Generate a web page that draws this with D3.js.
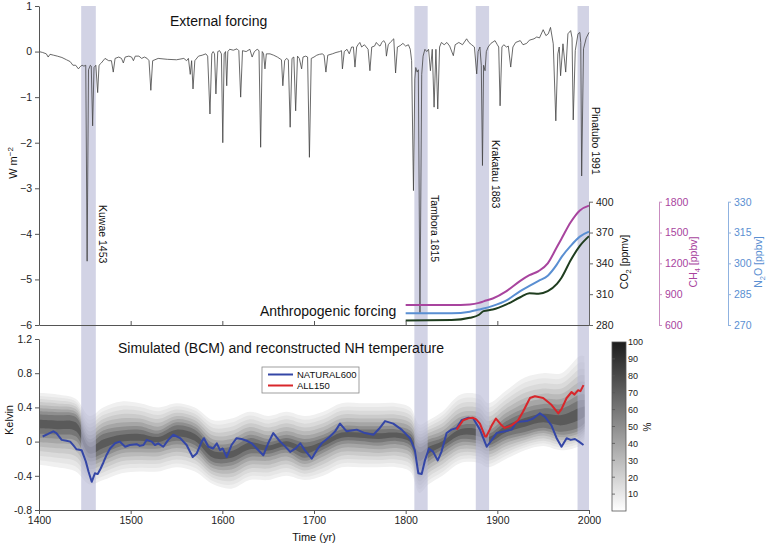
<!DOCTYPE html>
<html><head><meta charset="utf-8">
<script src="https://cdn.jsdelivr.net/npm/d3@7"></script>
<style>html,body{margin:0;padding:0;background:#fff} svg{display:block;font-family:"Liberation Sans",Arial,Helvetica,sans-serif}</style>
</head><body><svg id="c" width="768" height="547"></svg>
<script>
// ---------------- DATA ----------------
// External (volcanic + solar) forcing, W m^-2  [year, value]
const forcing = [
[1400,0.0],[1404,-0.02],[1408,-0.05],[1410,-0.12],[1412,-0.06],[1416,-0.08],[1420,-0.1],[1425,-0.13],[1430,-0.18],[1434,-0.22],[1437,-0.3],[1440,-0.3],[1443,-0.38],[1445,-0.33],[1447,-0.3],[1449,-0.32],[1451,-0.3],[1452.5,-4.6],[1454,-0.4],[1456,-0.3],[1457,-0.32],[1458.5,-1.63],[1460,-0.35],[1462,-0.3],[1464,-0.9],[1465.5,-0.3],
[1468,-0.25],[1472,-0.15],[1476,-0.2],[1479,-0.2],[1481,-0.45],[1483,-0.15],[1487,-0.12],[1490,-0.15],[1492,-0.25],[1494,-0.12],[1498,-0.1],[1501,-0.12],[1503,-0.2],[1505,-0.1],[1509,-0.1],[1512,-0.15],[1515,-0.12],[1518,-0.15],[1520,-0.2],[1522,-0.85],[1524,-0.2],[1530,-0.15],[1540,-0.17],[1550,-0.18],[1558,-0.15],[1561,-0.2],[1563,-0.15],[1565,-0.5],[1566.5,-0.2],[1568,-0.82],[1570,-0.2],[1574,-0.1],[1578,-0.08],[1582,-0.05],[1584,-0.1],[1586.5,-1.37],[1588.5,-0.05],[1590,0.0],[1591.5,-0.05],[1593,-0.93],[1595,0.0],[1597,0.02],[1599,-0.05],[1600.5,-2.0],[1602,-0.05],[1603.5,0.0],[1604.8,-0.75],[1606,0.0],[1608,0.05],[1612,0.03],[1616,0.06],[1618,0.02],[1620,-1.0],[1622,0.02],[1626,0.0],[1630,0.05],[1632.5,-0.12],[1635,0.0],[1638,0.05],[1640,0.02],[1641.8,-2.1],[1643.5,0.0],[1645,-0.05],[1646.5,-0.38],[1648,-0.05],[1652,-0.05],[1656,-0.08],[1660,-0.12],[1663,-0.16],[1664.5,-0.18],[1666,-0.75],[1668,-0.2],[1670,-0.15],[1672,-0.18],[1674,-1.66],[1676,-0.15],[1678,-0.12],[1680,-1.3],[1682,-0.1],[1684,-0.15],[1686.5,-0.38],[1688,-0.12],[1691,-0.1],[1693,-0.12],[1695,-2.32],[1697,-0.15],[1700,-0.12],[1703,-0.08],[1706,-0.06],[1709,-0.05],[1711,-0.08],[1713,-0.45],[1715,-0.08],[1720,-0.05],[1724,-0.02],[1728,0.0],[1730,0.02],[1731,-0.38],[1733,0.0],[1736,0.05],[1738.5,-0.05],[1741,0.1],[1743,0.1],[1744.7,-0.34],[1746.5,0.1],[1748,0.15],[1750,0.2],[1752,0.1],[1755,0.15],[1757,0.1],[1759,0.05],[1761,-0.42],[1763,0.1],[1766,0.12],[1768,0.2],[1770,0.15],[1772,0.12],[1774,0.2],[1776,0.24],[1778,0.18],[1779,-0.1],[1781,0.15],[1784,0.22],[1787,0.28],[1789,-0.47],[1791,0.1],[1794,0.13],[1797,0.18],[1800,0.12],[1803,0.15],[1805,0.05],[1806.5,-0.2],[1808.5,-3.05],[1810,-0.6],[1811,-0.35],[1812.5,-0.45],[1813.8,-0.4],[1815.6,-5.73],[1817.5,-0.5],[1819,-0.1],[1821,0.05],[1823,0.0],[1825,0.05],[1827,-0.42],[1829,0.05],[1831,-1.22],[1833,0.05],[1835,-1.26],[1837,0.1],[1839,0.2],
[1842,0.15],[1845,0.2],[1848,0.12],[1852,-0.09],[1854,0.15],[1858,0.2],[1862,0.15],[1866.5,0.28],[1869,0.2],[1872,0.15],[1875,0.1],[1877.5,-0.49],[1879,0.0],[1881,0.1],[1882.5,-0.3],[1883.8,-2.5],[1885,-0.3],[1886.6,-0.42],[1888,0.0],[1890,0.1],[1893,0.18],[1897.5,0.24],[1900,0.15],[1901.5,0.1],[1903,-1.19],[1905,0.1],[1907,0.15],[1910,0.1],[1912,0.12],[1914.6,-0.34],[1917,0.1],[1920,0.2],[1925,0.24],[1928,0.15],[1932,0.18],[1935,0.25],[1940,0.28],[1943,0.32],[1946,0.3],[1950,0.48],[1953,0.35],[1955.6,0.39],[1958,0.53],[1961,0.17],[1963.8,-1.52],[1966,-0.05],[1967.5,0.1],[1969,-0.53],[1971.6,0.17],[1974.6,-0.45],[1977,0.39],[1980,0.46],[1981.5,0.3],[1982.8,-1.5],[1985,0.02],[1988,0.39],[1990,0.42],[1991,0.2],[1992,-2.73],[1994,0.06],[1997,0.3],[2000,0.42]
];

// Greenhouse gases (anthropogenic forcing)
const ghgYears = [1800,1850,1870,1880,1885,1895,1910,1925,1935,1945,1955,1965,1970,1980,1990,2000];
const co2  = [284.5,284.8,287,290,293.5,295,300,307,311,310.5,313,320,326,343,357,366.5];
const ch4  = [795,795,800,815,830,858,930,1030,1085,1125,1200,1360,1440,1600,1715,1762];
const n2o  = [275.7,275.7,276.5,277.5,278,279.3,282,286.5,289,291.5,294,299.5,303,308.5,313,315.4];

// Volcanic eruption windows
const volcanoNames = ['Kuwae 1453','Tambora 1815','Krakatau 1883','Pinatubo 1991'];
const bandStart = [1446,1809.5,1876.5,1987.5];
const bandEnd   = [1462,1824,1891,2000];

// Simulated NH temperature (K)
const natural600 = [[1404,0.06],[1410,0.09],[1415.6,0.12],[1419,0.1],[1424.7,0.02],[1430,0.01],[1434,0.0],[1438,-0.05],[1441,-0.09],[1446.5,-0.1],[1451,-0.23],[1454,-0.35],[1457.5,-0.47],[1461,-0.37],[1464,-0.38],[1467,-0.32],[1470,-0.25],[1474,-0.15],[1477.5,-0.08],[1483,-0.02],[1488,0.0],[1494,-0.06],[1499,-0.04],[1506.5,-0.03],[1510,-0.05],[1514,-0.04],[1517.5,0.02],[1523,0.0],[1526.5,-0.04],[1530,-0.02],[1535.6,-0.06],[1541,0.02],[1546.5,0.08],[1554,0.04],[1561,-0.04],[1567.7,-0.18],[1572,-0.14],[1577.5,0.0],[1580,0.04],[1584.7,-0.06],[1590,-0.08],[1594,-0.02],[1597.5,-0.1],[1600.4,-0.08],[1604.8,-0.18],[1610,-0.04],[1615.6,0.04],[1621,0.03],[1626.6,0.01],[1632,-0.02],[1637.5,-0.08],[1644.7,-0.16],[1650,-0.02],[1655.6,0.1],[1663,0.0],[1668,-0.05],[1674,-0.12],[1680,-0.08],[1685,-0.02],[1690,-0.1],[1697.5,-0.2],[1703,-0.1],[1708.4,-0.02],[1717.5,0.06],[1723,0.12],[1728.4,0.21],[1735.6,0.12],[1741,0.13],[1746.6,0.14],[1755.6,0.1],[1764.7,0.08],[1771,0.15],[1777.5,0.24],[1786.5,0.21],[1795.6,0.14],[1804.7,0.04],[1810,-0.1],[1813.8,-0.37],[1817.5,-0.38],[1821,-0.22],[1825.5,-0.08],[1830,-0.12],[1835,-0.22],[1839,-0.12],[1844.7,0.1],[1850,0.14],[1855.6,0.16],[1861,0.25],[1868.4,0.28],[1873.8,0.27],[1881,0.14],[1888.4,-0.06],[1894,0.02],[1899.3,0.1],[1908.4,0.12],[1915.6,0.14],[1921,0.23],[1932,0.24],[1939,0.27],[1946.5,0.33],[1952,0.29],[1959,0.19],[1964.7,0.04],[1970,-0.06],[1975.6,0.04],[1980,0.02],[1984.7,0.03],[1989,0.0],[1994,-0.04]];
const all150 = [[1855.6,0.14],[1862.7,0.25],[1868,0.27],[1873,0.28],[1877,0.26],[1881,0.21],[1886.6,0.06],[1888,0.06],[1894,0.19],[1898.5,0.27],[1904.7,0.19],[1908,0.16],[1915.6,0.19],[1922.7,0.25],[1928,0.35],[1935.6,0.51],[1941,0.53],[1950,0.51],[1959,0.43],[1966.5,0.33],[1970,0.38],[1975.6,0.51],[1981,0.58],[1984,0.55],[1988,0.6],[1990.7,0.59],[1994,0.66]];

// Reconstruction density envelope (outer ~10 % and core ~80 % contours)
const envYears = [1400,1420,1440,1455,1470,1490,1510,1530,1550,1570,1590,1610,1630,1650,1670,1690,1710,1730,1750,1770,1790,1805,1815,1825,1840,1860,1880,1890,1910,1930,1950,1970,1990,1995];
const outerHi = [0.57,0.55,0.5,0.3,0.4,0.47,0.45,0.4,0.45,0.4,0.25,0.27,0.35,0.3,0.35,0.3,0.35,0.45,0.45,0.45,0.45,0.4,0.2,0.25,0.35,0.55,0.55,0.45,0.6,0.75,0.8,0.8,1.0,1.0];
const outerLo = [-0.27,-0.3,-0.35,-0.5,-0.45,-0.37,-0.35,-0.35,-0.3,-0.35,-0.5,-0.55,-0.45,-0.45,-0.4,-0.45,-0.4,-0.3,-0.3,-0.3,-0.3,-0.35,-0.6,-0.5,-0.4,-0.25,-0.25,-0.3,-0.2,-0.1,-0.05,-0.1,-0.05,0.0];
const coreHi  = [0.33,0.32,0.3,0.0,0.1,0.14,0.15,0.1,0.2,0.15,-0.05,-0.05,0.05,0.0,0.05,0.0,0.05,0.15,0.15,0.15,0.15,0.1,-0.05,0.0,0.05,0.2,0.2,0.1,0.25,0.35,0.4,0.4,0.5,0.5];
const coreLo  = [0.08,0.07,0.05,-0.2,-0.15,-0.06,-0.05,-0.05,0.0,-0.05,-0.25,-0.25,-0.15,-0.15,-0.1,-0.2,-0.1,0.0,0.0,-0.02,0.0,-0.05,-0.3,-0.2,-0.1,0.02,0.0,-0.05,0.05,0.1,0.15,0.1,0.15,0.2];

const forcingTicks = [-6,-5,-4,-3,-2,-1,0,1];
const tempTicks = [-0.8,-0.4,0,0.4,0.8,1.2];
const yearTicks = [1400,1500,1600,1700,1800,1900,2000];
const co2Ticks = [280,310,340,370,400];
const ch4Ticks = [600,900,1200,1500,1800];
const n2oTicks = [270,285,300,315,330];
const pctTicks = [10,20,30,40,50,60,70,80,90,100];

// ---------------- DRAWING ----------------
const svg = d3.select('#c');
const x = d3.scaleLinear([1400,2000],[39,589]);
const yF = d3.scaleLinear([-6,1],[325,6]);
const yT = d3.scaleLinear([-0.8,1.2],[510,339]);
const yCO2 = d3.scaleLinear([280,400],[325,201.7]);
const yCH4 = d3.scaleLinear([600,1800],[325,201.7]);
const yN2O = d3.scaleLinear([270,330],[325,201.7]);
const yPct = d3.scaleLinear([0,100],[511,342]);

const C_CO2='#1f3d1f', C_CH4='#a8449e', C_N2O='#5a8fd2', C_BLUE='#3446a6', C_RED='#d8262b', AX='#555';

// density shading
const levels = [0,0.15,0.3,0.45,0.6,0.75,0.9,1.05,1.3];
const grays = ['#f0f0f0','#e6e6e6','#dadada','#cbcbcb','#bababa','#a6a6a6','#8f8f8f','#767676','#5a5a5a'];
const gShade = svg.append('g');
levels.forEach((t,k)=>{
  const hiF = i => t<=1 ? outerHi[i]+t*(coreHi[i]-outerHi[i]) : coreHi[i]-(t-1)*(coreHi[i]-coreLo[i]);
  const loF = i => t<=1 ? outerLo[i]+t*(coreLo[i]-outerLo[i]) : coreLo[i]+(t-1)*(coreHi[i]-coreLo[i]);
  const area = d3.area().x((d,i)=>x(envYears[i])).y0((d,i)=>yT(loF(i))).y1((d,i)=>yT(hiF(i))).curve(d3.curveCatmullRom);
  gShade.append('path').attr('d',area(envYears)).attr('fill',grays[k]);
});

// eruption bands
svg.append('g').selectAll('rect').data(bandStart).join('rect')
  .attr('x',d=>x(d)).attr('width',(d,i)=>x(bandEnd[i])-x(d))
  .attr('y',6).attr('height',504).attr('fill','#b4b6d4').attr('opacity',0.6);

// forcing line
svg.append('path').attr('d',d3.line().x(d=>x(d[0])).y(d=>yF(d[1]))(forcing))
  .attr('fill','none').attr('stroke','#444').attr('stroke-width',0.8).attr('stroke-linejoin','round');

// GHG lines
const ghgLine = (arr,ys)=>d3.line().x((d,i)=>x(ghgYears[i])).y((d,i)=>ys(arr[i])).curve(d3.curveMonotoneX)(arr);
svg.append('path').attr('d',ghgLine(ch4,yCH4)).attr('fill','none').attr('stroke',C_CH4).attr('stroke-width',2);
svg.append('path').attr('d',ghgLine(n2o,yN2O)).attr('fill','none').attr('stroke',C_N2O).attr('stroke-width',2);
svg.append('path').attr('d',ghgLine(co2,yCO2)).attr('fill','none').attr('stroke',C_CO2).attr('stroke-width',2);

// temperature lines
const tl = d3.line().x(d=>x(d[0])).y(d=>yT(d[1]));
svg.append('path').attr('d',tl(natural600)).attr('fill','none').attr('stroke',C_BLUE).attr('stroke-width',2).attr('stroke-linejoin','round');
svg.append('path').attr('d',tl(all150)).attr('fill','none').attr('stroke',C_RED).attr('stroke-width',2).attr('stroke-linejoin','round');

// axes
function styleAxis(g,color,textColor,fs){
  g.select('.domain').attr('stroke',color);
  g.selectAll('.tick line').attr('stroke',color);
  g.selectAll('.tick text').attr('fill',textColor).style('font-size',fs+'px').style('font-family','"Liberation Sans",Arial,sans-serif');
}
styleAxis(svg.append('g').attr('transform','translate(39,0)')
  .call(d3.axisLeft(yF).tickValues(forcingTicks).tickSize(4).tickSizeOuter(0).tickFormat(d3.format('d'))),AX,'#222',10.5);
styleAxis(svg.append('g').attr('transform','translate(0,325)')
  .call(d3.axisTop(x).tickValues(yearTicks).tickSize(4).tickSizeOuter(0).tickFormat('')),AX,'#222',10.5);
styleAxis(svg.append('g').attr('transform','translate(39,0)')
  .call(d3.axisLeft(yT).tickValues(tempTicks).tickSize(4).tickSizeOuter(0).tickFormat(d=>d===0?'0':d.toFixed(1))),AX,'#222',10.5);
styleAxis(svg.append('g').attr('transform','translate(0,510)')
  .call(d3.axisBottom(x).tickValues(yearTicks).tickSize(4).tickSizeOuter(0).tickFormat(d3.format('d'))),AX,'#222',10.5);
styleAxis(svg.append('g').attr('transform','translate(589,0)')
  .call(d3.axisRight(yCO2).tickValues(co2Ticks).tickSize(4).tickSizeOuter(0).tickFormat(d3.format('d'))),'#666','#222',10.5);
styleAxis(svg.append('g').attr('transform','translate(659,0)')
  .call(d3.axisRight(yCH4).tickValues(ch4Ticks).tickSize(3).tickSizeOuter(0).tickFormat(d3.format('d'))),'#c98cc0',C_CH4,10.5);
styleAxis(svg.append('g').attr('transform','translate(728,0)')
  .call(d3.axisRight(yN2O).tickValues(n2oTicks).tickSize(3).tickSizeOuter(0).tickFormat(d3.format('d'))),'#8fb2e0',C_N2O,10.5);

// colorbar
const defs = svg.append('defs');
const grad = defs.append('linearGradient').attr('id','cb').attr('x1',0).attr('y1',1).attr('x2',0).attr('y2',0);
grad.append('stop').attr('offset','0%').attr('stop-color','#ffffff');
grad.append('stop').attr('offset','100%').attr('stop-color','#1c1c1c');
svg.append('rect').attr('x',612).attr('y',yPct(100)).attr('width',14).attr('height',yPct(0)-yPct(100))
  .attr('fill','url(#cb)').attr('stroke','#555').attr('stroke-width',0.8);
const cbAx = svg.append('g').attr('transform','translate(626,0)')
  .call(d3.axisRight(yPct).tickValues(pctTicks).tickSize(0).tickPadding(2).tickSizeOuter(0));
cbAx.select('.domain').remove();
cbAx.selectAll('.tick text').attr('fill','#222').style('font-size','9px');
svg.append('g').selectAll('line').data(pctTicks.slice(0,-1)).join('line')
  .attr('x1',612).attr('x2',615).attr('y1',d=>yPct(d)).attr('y2',d=>yPct(d)).attr('stroke','#555').attr('stroke-width',0.8);

// texts
const T = (s,xx,yy,fs,opts={})=>{
  const t=svg.append('text').attr('x',xx).attr('y',yy).style('font-size',fs+'px').attr('fill',opts.fill||'#111').text(s);
  if(opts.anchor) t.attr('text-anchor',opts.anchor);
  return t;
};
T('External forcing',170,26,14);
T('Anthropogenic forcing',260,316,14);
T('Simulated (BCM) and reconstructed NH temperature',118,353,14);
T('Time (yr)',314,541,11,{anchor:'middle'});

// rotated labels
function rot(xx,yy,angle,build){
  const t = svg.append('text').attr('transform',`translate(${xx},${yy}) rotate(${angle})`).attr('text-anchor','middle');
  build(t); return t;
}
rot(17,163,-90,t=>{t.style('font-size','11px').attr('fill','#111');
  t.append('tspan').text('W m'); t.append('tspan').attr('dy',-4).style('font-size','8px').text('−2');});
rot(13,420,-90,t=>{t.style('font-size','11px').attr('fill','#111').text('Kelvin');});
rot(628,262,-90,t=>{t.style('font-size','10.5px').attr('fill','#111');
  t.append('tspan').text('CO'); t.append('tspan').attr('dy',3).style('font-size','7.5px').text('2');
  t.append('tspan').attr('dy',-3).text(' [ppmv]');});
rot(697,262,-90,t=>{t.style('font-size','10.5px').attr('fill',C_CH4);
  t.append('tspan').text('CH'); t.append('tspan').attr('dy',3).style('font-size','7.5px').text('4');
  t.append('tspan').attr('dy',-3).text(' [ppbv]');});
rot(762,262,-90,t=>{t.style('font-size','10.5px').attr('fill',C_N2O);
  t.append('tspan').text('N'); t.append('tspan').attr('dy',3).style('font-size','7.5px').text('2');
  t.append('tspan').attr('dy',-3).text('O [ppbv]');});
rot(651,427,-90,t=>{t.style('font-size','10px').attr('fill','#111').text('%');});

// volcano labels (rotated +90)
const labelTop = [205,195,140,107];
volcanoNames.forEach((n,i)=>{
  svg.append('text').attr('transform',`translate(${x(bandEnd[i])+3},${labelTop[i]}) rotate(90)`)
    .style('font-size','10.5px').attr('fill','#111').text(n);
});

// legend
svg.append('rect').attr('x',262).attr('y',367).attr('width',97).attr('height',26).attr('fill','#fff').attr('stroke','#888').attr('stroke-width',0.8);
[['NATURAL600',C_BLUE,374.5],['ALL150',C_RED,385.5]].forEach(([n,c,yy])=>{
  svg.append('line').attr('x1',268).attr('x2',293).attr('y1',yy).attr('y2',yy).attr('stroke',c).attr('stroke-width',2);
  svg.append('text').attr('x',297).attr('y',yy+3.5).style('font-size','9.5px').attr('fill','#111').text(n);
});
</script></body></html>
